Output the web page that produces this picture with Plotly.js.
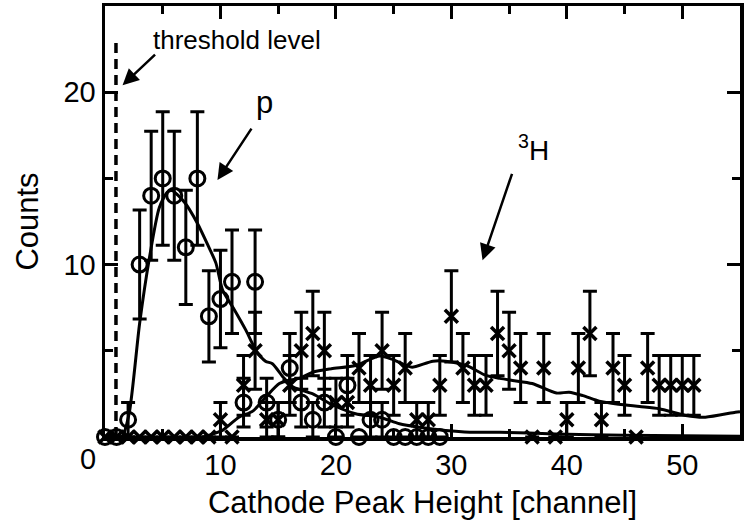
<!DOCTYPE html>
<html>
<head>
<meta charset="utf-8">
<script src="https://cdn.plot.ly/plotly-3.0.1.min.js"></script>
<style>html,body{margin:0;padding:0;background:#fff;}</style>
</head>
<body>
<div id="chart" style="width:747px;height:527px;"></div>
<script>
// proton (p) counts per channel
var pChannels = [0,1,2,3,4,5,6,7,8,9,10,11,12,13,14,15,16,17,18,19,20,21,22,23,24,25,26,27,28,29];
var pCounts   = [0,0,1,10,14,15,14,11,15,7,8,9,2,9,2,1,4,2,1,2,0,3,0,1,1,0,0,0,0,0];

// tritium (3H) counts per channel
var hChannels = [0,1,2,3,4,5,6,7,8,9,10,11,12,13,14,15,16,17,18,19,20,21,22,23,24,25,26,27,28,29,30,31,32,33,34,35,36,37,38,39,40,41,42,43,44,45,46,47,48,49,50,51];
var hCounts   = [0,0,0,0,0,0,0,0,0,0,1,0,3,5,1,1,3,5,6,5,2,2,4,3,5,3,4,1,1,3,7,4,3,3,6,5,4,0,4,0,1,4,6,1,4,3,0,4,3,3,3,3];

// fitted (simulated) curves
var pFitX = [0,1.2,1.5,2.1,3,3.85,4.7,5.4,5.8,6.9,8,9,9.6,10.2,11.1,12.2,13.1,13.9,14.5,15.4,16.3,18,19.6,21.7,23.8,25.5,27.2,29.5,31.6,34.2,39,45,55];
var pFitY = [0,0,0.05,1.4,6.6,10.4,13.3,14.2,14.3,13.6,12.4,11,10.1,8.5,7.5,6.2,5,4.4,4.25,3.5,2.9,2.5,1.9,1.35,1.15,0.77,0.57,0.38,0.28,0.28,0.18,0.1,0.05];
var hFitX = [0,8.5,9,10.2,11.6,12.8,13.9,15.1,16,16.8,18,19.6,21.7,23.8,24.9,26.1,26.6,28.4,29.5,31.3,33,34.2,35.3,37,39.1,40.2,41.4,42.8,44.5,46.3,48,50.3,52,54.6,55];
var hFitY = [0,0,0.1,0.4,1.15,1.5,2.3,3.1,3.3,3.4,3.76,3.96,4.15,4.7,4.5,4.15,4.05,4.4,4.4,4.15,3.57,3.4,3.28,3.1,2.55,2.6,2.4,2.08,1.9,1.77,1.64,1.25,1.15,1.44,1.47];

// threshold level
var thresholdX = [0.95, 0.95];
var thresholdY = [0, 23];

// tick labels
var xTickVals = [0,10,20,30,40,50];
var xTickText = ['','10','20','30','40','50'];
var yTickVals = [0,10,20];
var yTickText = ['','10','20'];

var FONT = 'Liberation Sans, Arial, Helvetica, sans-serif';

var traces = [
  {x: thresholdX, y: thresholdY, mode:'lines', line:{color:'black', width:3.5, dash:'10px,6px'}, hoverinfo:'skip', cliponaxis:false},
  {x: pFitX, y: pFitY, mode:'lines', line:{color:'black', width:3, shape:'spline', smoothing:0.7}},
  {x: hFitX, y: hFitY, mode:'lines', line:{color:'black', width:3, shape:'spline', smoothing:0.7}},
  {x: pChannels, y: pCounts, mode:'markers', cliponaxis:false,
   marker:{symbol:'circle-open', size:15, color:'black', line:{width:3, color:'black'}},
   error_y:{type:'sqrt', visible:true, color:'black', thickness:3, width:7}},
  {x: hChannels, y: hCounts, mode:'markers', cliponaxis:false,
   marker:{symbol:'x-thin-open', size:13, color:'black', line:{width:3.5, color:'black'}},
   error_y:{type:'sqrt', visible:true, color:'black', thickness:3, width:7}}
];

var axisCommon = {
  showline:true, linewidth:3.5, linecolor:'black', mirror:'ticks',
  ticks:'inside', ticklen:13, tickwidth:3, tickcolor:'black',
  showgrid:false, zeroline:false,
  tickfont:{family:FONT, size:29, color:'black'},
  minor:{dtick:5, tick0:0, ticks:'inside', ticklen:8, tickwidth:3, tickcolor:'black', showgrid:false}
};

var layout = {
  width:747, height:527, autosize:false,
  margin:{l:105, r:7, t:6, b:90, pad:0},
  paper_bgcolor:'white', plot_bgcolor:'white',
  showlegend:false,
  font:{family:FONT, color:'black'},
  xaxis: Object.assign({}, axisCommon, {
    range:[0,55], tickmode:'array', tickvals:xTickVals, ticktext:xTickText,
    title:{text:'Cathode Peak Height [channel]', font:{family:FONT, size:31, color:'black'}, standoff:12}
  }),
  yaxis: Object.assign({}, axisCommon, {
    range:[0,25], tickmode:'array', tickvals:yTickVals, ticktext:yTickText,
    title:{text:'Counts', font:{family:FONT, size:31, color:'black'}, standoff:16}
  }),
  annotations:[
    {xref:'paper', yref:'paper', x:-0.027, y:-0.05, text:'0', showarrow:false, font:{family:FONT, size:29, color:'black'}, xanchor:'center', yanchor:'middle'},
    {x:4.0, y:23.0, text:'threshold level', showarrow:false, xanchor:'left', yanchor:'middle', font:{family:FONT, size:26, color:'black'}},
    {x:1.52, y:20.4, text:'', showarrow:true, ax:34, ay:-32, arrowhead:2, arrowsize:1.3, arrowwidth:2.5, arrowcolor:'black'},
    {x:13.8, y:19.4, text:'p', showarrow:false, font:{family:FONT, size:31, color:'black'}},
    {x:9.74, y:14.9, text:'', showarrow:true, ax:35, ay:-53, arrowhead:2, arrowsize:1.3, arrowwidth:2.5, arrowcolor:'black'},
    {x:37.1, y:16.75, text:'<sup>3</sup>H', showarrow:false, font:{family:FONT, size:28, color:'black'}},
    {x:32.7, y:10.25, text:'', showarrow:true, ax:30, ay:-88, arrowhead:2, arrowsize:1.3, arrowwidth:2.5, arrowcolor:'black'}
  ]
};

Plotly.newPlot('chart', traces, layout, {staticPlot:true, displayModeBar:false});
</script>
</body>
</html>
